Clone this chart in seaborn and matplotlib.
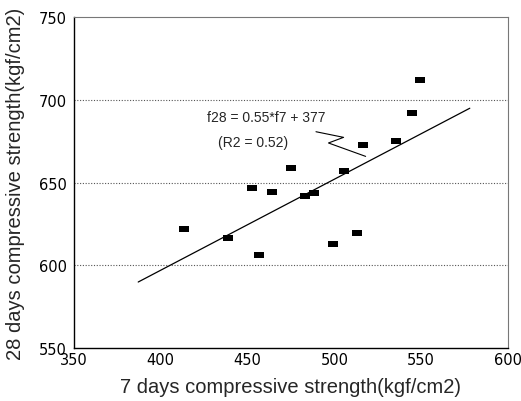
import matplotlib
matplotlib.use("Agg")
import matplotlib.pyplot as plt
import seaborn as sns
import numpy as np
import pandas as pd

# 7-day vs 28-day compressive strength (kgf/cm2)
f7 = [413.5, 438.5, 452.7, 456.8, 463.9, 474.8, 483.0, 488.2,
      499.0, 505.7, 513.0, 516.5, 535.3, 544.5, 549.3]
f28 = [621.9, 616.5, 646.9, 606.0, 644.3, 659.0, 641.8, 643.5,
       612.8, 657.0, 619.3, 672.9, 674.9, 691.8, 711.7]

# fitted line f28 = 0.55*f7 + 377, drawn over this range
fit_slope = 0.55
fit_icept = 377
fit_range = [387, 578]

x_ticks = [350, 400, 450, 500, 550, 600]
y_ticks = [550, 600, 650, 700, 750]

df = pd.DataFrame({"f7": f7, "f28": f28})

sns.set_style("white")
plt.rcParams['font.family'] = ['Liberation Sans', 'DejaVu Sans']

fig = plt.figure(figsize=(5.21, 4.02), dpi=100)
ax = fig.add_axes([0.142, 0.132, 0.833, 0.823])

# rectangular marker, wider than tall
rect = [(-1, -0.5), (1, -0.5), (1, 0.5), (-1, 0.5), (-1, -0.5)]
sns.scatterplot(data=df, x="f7", y="f28", ax=ax, marker=rect, s=55,
                color="black", edgecolor="black", linewidth=0, zorder=3)

xl = np.array(fit_range)
line_df = pd.DataFrame({"x": xl, "y": fit_slope * xl + fit_icept})
sns.lineplot(data=line_df, x="x", y="y", ax=ax, color="black", linewidth=0.9)

for yv in [600, 650, 700]:
    ax.axhline(yv, color="#555555", linestyle=(0, (1, 1.5)), linewidth=0.8, zorder=1)

ax.text(460.6, 689.6, "f28 = 0.55*f7 + 377", fontsize=10, ha="center", va="center")
ax.text(453, 674.5, "(R2 = 0.52)", fontsize=10, ha="center", va="center")
ax.plot([489.4, 505.3, 496.6, 518], [680.7, 677.3, 673.9, 665.8],
        color="black", linewidth=0.8)

ax.set_xlim(350, 600)
ax.set_ylim(550, 750)
ax.set_xticks(x_ticks)
ax.set_yticks(y_ticks)
ax.tick_params(axis="y", direction="out", length=3, width=0.8, pad=2,
               labelsize=10.5, colors="black")
ax.tick_params(axis="x", direction="out", length=2, width=0.8, pad=1,
               labelsize=10.5, colors="black")
for lab in ax.get_xticklabels() + ax.get_yticklabels():
    lab.set_family("DejaVu Sans")

for side in ["left", "bottom"]:
    ax.spines[side].set_color("black")
    ax.spines[side].set_linewidth(1.0)
for side in ["top", "right"]:
    ax.spines[side].set_color("#777777")
    ax.spines[side].set_linewidth(0.8)

ax.set_xlabel("7 days compressive strength(kgf/cm2)", fontsize=14.5, labelpad=7)
ax.set_ylabel("28 days compressive strength(kgf/cm2)", fontsize=14.5, labelpad=10)

fig.savefig("out.png", dpi=100)
